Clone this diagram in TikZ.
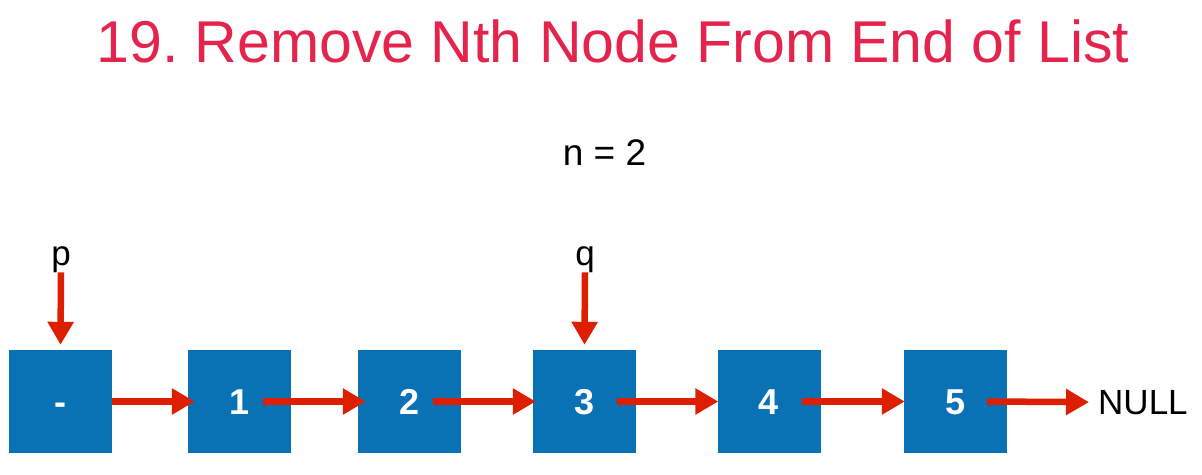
\documentclass[tikz,border=0pt]{standalone}
\usepackage{fontspec}
\setmainfont{Liberation Sans}
\usetikzlibrary{arrows.meta}
\definecolor{boxblue}{RGB}{8,114,180}
\definecolor{arrred}{RGB}{222,30,0}
\definecolor{titlered}{RGB}{228,36,76}
\tikzset{
  listbox/.style={fill=boxblue, minimum width=103pt, minimum height=103pt, inner sep=0pt,
    text=white, font=\fontsize{36}{36}\selectfont\bfseries, text height=26pt, text depth=0pt},
  ptr/.style={draw=arrred, line width=6.5pt, -{Triangle[length=23pt,width=25pt]}},
  lbl/.style={inner sep=0pt, font=\fontsize{35}{35}\selectfont, anchor=base},
}
\begin{document}
\frenchspacing
\begin{tikzpicture}[x=1pt,y=-1pt]
\useasboundingbox (0,0) rectangle (1202,474);
\node[inner sep=0pt, anchor=base, text=titlered, font=\fontsize{59}{59}\selectfont] (title) at (613,62) {19. Remove Nth Node From End of List};
\node[lbl, font=\fontsize{37}{37}\selectfont] (n) at (604.5,165) {n = 2};
\node[listbox] (b0) at (60.5,401.5) {-};
\node[listbox] (b1) at (239.5,401.5) {1};
\node[listbox] (b2) at (409.5,401.5) {2};
\node[listbox] (b3) at (584.5,401.5) {3};
\node[listbox] (b4) at (769,401.5) {4};
\node[listbox] (b5) at (955.5,401.5) {5};
\node[lbl, anchor=base west] (null) at (1098,414) {NULL};
\node[lbl] (p) at (61,265) {p};
\node[lbl] (q) at (585,265) {q};
\draw[ptr] (p.south) -- ([yshift=5pt]b0.north);
\draw[ptr] (q.south) -- ([yshift=5pt]b3.north);
\draw[ptr] (b0.east) -- ([xshift=7pt]b1.west);
\draw[ptr] ([xshift=23.5pt]b1.center) -- ([xshift=8pt]b2.west);
\draw[ptr] ([xshift=23.5pt]b2.center) -- ([xshift=3pt]b3.west);
\draw[ptr] ([xshift=32.5pt]b3.center) -- ([xshift=1pt]b4.west);
\draw[ptr] ([xshift=33pt]b4.center) -- ([xshift=1pt]b5.west);
\draw[ptr] ([xshift=31.5pt]b5.center) -- ([xshift=-9pt]null.west);
\end{tikzpicture}
\end{document}
